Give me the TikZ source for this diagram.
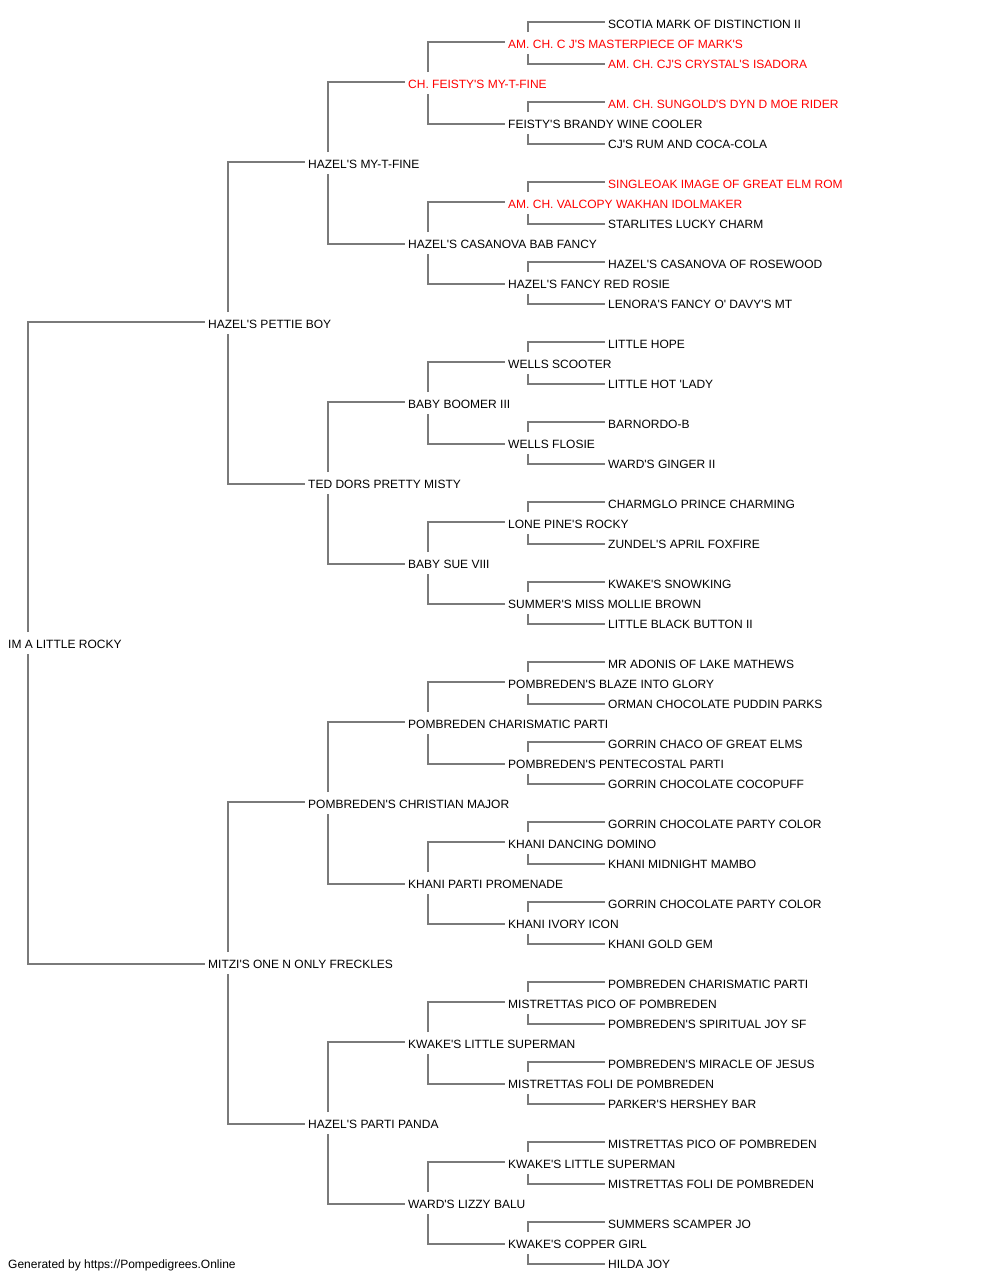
\documentclass[tikz,border=0pt]{standalone}
\usepackage{fontspec}
\setmainfont{Liberation Sans}[Ligatures=TeXOff]
\definecolor{linegray}{RGB}{122,122,122}
\definecolor{champred}{RGB}{255,0,0}
\begin{document}
\begin{tikzpicture}[x=1pt,y=-1pt,
  nm/.style={anchor=west,inner sep=0pt,text height=8.6pt,text depth=0pt,font=\fontsize{12}{14}\selectfont,text=black},
  ch/.style={nm,text=champred},
  conn/.style={draw=linegray,line width=1.8pt}]
\useasboundingbox (0,0) rectangle (1000,1280);
% generation 0
\node[nm] (n31) at (8,643.7) {IM A LITTLE ROCKY};
% generation 1
\node[nm] (n15) at (208,323.7) {HAZEL'S PETTIE BOY};
\node[nm] (n47) at (208,963.7) {MITZI'S ONE N ONLY FRECKLES};
% generation 2
\node[nm] (n7) at (308,163.7) {HAZEL'S MY-T-FINE};
\node[nm] (n23) at (308,483.7) {TED DORS PRETTY MISTY};
\node[nm] (n39) at (308,803.7) {POMBREDEN'S CHRISTIAN MAJOR};
\node[nm] (n55) at (308,1123.7) {HAZEL'S PARTI PANDA};
% generation 3
\node[ch] (n3) at (408,83.7) {CH. FEISTY'S MY-T-FINE};
\node[nm] (n11) at (408,243.7) {HAZEL'S CASANOVA BAB FANCY};
\node[nm] (n19) at (408,403.7) {BABY BOOMER III};
\node[nm] (n27) at (408,563.7) {BABY SUE VIII};
\node[nm] (n35) at (408,723.7) {POMBREDEN CHARISMATIC PARTI};
\node[nm] (n43) at (408,883.7) {KHANI PARTI PROMENADE};
\node[nm] (n51) at (408,1043.7) {KWAKE'S LITTLE SUPERMAN};
\node[nm] (n59) at (408,1203.7) {WARD'S LIZZY BALU};
% generation 4
\node[ch] (n1) at (508,43.7) {AM. CH. C J'S MASTERPIECE OF MARK'S};
\node[nm] (n5) at (508,123.7) {FEISTY'S BRANDY WINE COOLER};
\node[ch] (n9) at (508,203.7) {AM. CH. VALCOPY WAKHAN IDOLMAKER};
\node[nm] (n13) at (508,283.7) {HAZEL'S FANCY RED ROSIE};
\node[nm] (n17) at (508,363.7) {WELLS SCOOTER};
\node[nm] (n21) at (508,443.7) {WELLS FLOSIE};
\node[nm] (n25) at (508,523.7) {LONE PINE'S ROCKY};
\node[nm] (n29) at (508,603.7) {SUMMER'S MISS MOLLIE BROWN};
\node[nm] (n33) at (508,683.7) {POMBREDEN'S BLAZE INTO GLORY};
\node[nm] (n37) at (508,763.7) {POMBREDEN'S PENTECOSTAL PARTI};
\node[nm] (n41) at (508,843.7) {KHANI DANCING DOMINO};
\node[nm] (n45) at (508,923.7) {KHANI IVORY ICON};
\node[nm] (n49) at (508,1003.7) {MISTRETTAS PICO OF POMBREDEN};
\node[nm] (n53) at (508,1083.7) {MISTRETTAS FOLI DE POMBREDEN};
\node[nm] (n57) at (508,1163.7) {KWAKE'S LITTLE SUPERMAN};
\node[nm] (n61) at (508,1243.7) {KWAKE'S COPPER GIRL};
% generation 5
\node[nm] (n0) at (608,23.7) {SCOTIA MARK OF DISTINCTION II};
\node[ch] (n2) at (608,63.7) {AM. CH. CJ'S CRYSTAL'S ISADORA};
\node[ch] (n4) at (608,103.7) {AM. CH. SUNGOLD'S DYN D MOE RIDER};
\node[nm] (n6) at (608,143.7) {CJ'S RUM AND COCA-COLA};
\node[ch] (n8) at (608,183.7) {SINGLEOAK IMAGE OF GREAT ELM ROM};
\node[nm] (n10) at (608,223.7) {STARLITES LUCKY CHARM};
\node[nm] (n12) at (608,263.7) {HAZEL'S CASANOVA OF ROSEWOOD};
\node[nm] (n14) at (608,303.7) {LENORA'S FANCY O' DAVY'S MT};
\node[nm] (n16) at (608,343.7) {LITTLE HOPE};
\node[nm] (n18) at (608,383.7) {LITTLE HOT 'LADY};
\node[nm] (n20) at (608,423.7) {BARNORDO-B};
\node[nm] (n22) at (608,463.7) {WARD'S GINGER II};
\node[nm] (n24) at (608,503.7) {CHARMGLO PRINCE CHARMING};
\node[nm] (n26) at (608,543.7) {ZUNDEL'S APRIL FOXFIRE};
\node[nm] (n28) at (608,583.7) {KWAKE'S SNOWKING};
\node[nm] (n30) at (608,623.7) {LITTLE BLACK BUTTON II};
\node[nm] (n32) at (608,663.7) {MR ADONIS OF LAKE MATHEWS};
\node[nm] (n34) at (608,703.7) {ORMAN CHOCOLATE PUDDIN PARKS};
\node[nm] (n36) at (608,743.7) {GORRIN CHACO OF GREAT ELMS};
\node[nm] (n38) at (608,783.7) {GORRIN CHOCOLATE COCOPUFF};
\node[nm] (n40) at (608,823.7) {GORRIN CHOCOLATE PARTY COLOR};
\node[nm] (n42) at (608,863.7) {KHANI MIDNIGHT MAMBO};
\node[nm] (n44) at (608,903.7) {GORRIN CHOCOLATE PARTY COLOR};
\node[nm] (n46) at (608,943.7) {KHANI GOLD GEM};
\node[nm] (n48) at (608,983.7) {POMBREDEN CHARISMATIC PARTI};
\node[nm] (n50) at (608,1023.7) {POMBREDEN'S SPIRITUAL JOY SF};
\node[nm] (n52) at (608,1063.7) {POMBREDEN'S MIRACLE OF JESUS};
\node[nm] (n54) at (608,1103.7) {PARKER'S HERSHEY BAR};
\node[nm] (n56) at (608,1143.7) {MISTRETTAS PICO OF POMBREDEN};
\node[nm] (n58) at (608,1183.7) {MISTRETTAS FOLI DE POMBREDEN};
\node[nm] (n60) at (608,1223.7) {SUMMERS SCAMPER JO};
\node[nm] (n62) at (608,1263.7) {HILDA JOY};
% footer
\node[nm] (foot) at (8,1263.7) {Generated by https://Pompedigrees.Online};
% connectors
\foreach \p/\d in {31/16,15/8,47/8,7/4,23/4,39/4,55/4,3/2,11/2,19/2,27/2,35/2,43/2,51/2,59/2,
  1/1,5/1,9/1,13/1,17/1,21/1,25/1,29/1,33/1,37/1,41/1,45/1,49/1,53/1,57/1,61/1}{
  \pgfmathtruncatemacro{\u}{\p-\d}
  \pgfmathtruncatemacro{\l}{\p+\d}
  \draw[conn] ([xshift=20pt,yshift=11.7pt]n\p.west) |- ([xshift=-3pt,yshift=1.7pt]n\u.west);
  \draw[conn] ([xshift=20pt,yshift=-10.3pt]n\p.west) |- ([xshift=-3pt,yshift=-0.3pt]n\l.west);
}
\end{tikzpicture}
\end{document}
